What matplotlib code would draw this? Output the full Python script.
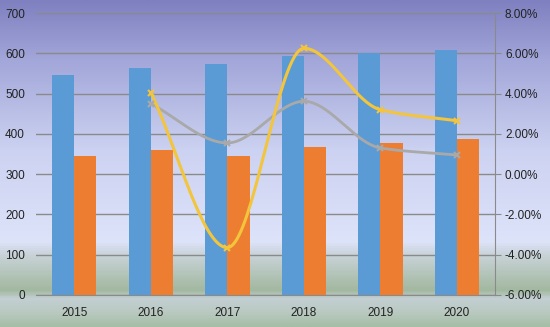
import numpy as np
import matplotlib.pyplot as plt
from matplotlib.colors import LinearSegmentedColormap

# Yearly totals (bars, left axis) and year-on-year growth (lines, right axis, %)
years = ["2015", "2016", "2017", "2018", "2019", "2020"]
series_blue = [546, 563, 573, 593, 600, 608]
series_orange = [345, 360, 345, 367, 377, 387]
growth_years = ["2016", "2017", "2018", "2019", "2020"]
growth_yellow = [4.05, -3.65, 6.25, 3.20, 2.65]
growth_gray = [3.50, 1.55, 3.62, 1.30, 0.95]

left_ticks = [0, 100, 200, 300, 400, 500, 600, 700]
right_ticks = [-6, -4, -2, 0, 2, 4, 6, 8]

BLUE = "#5b9bd5"
ORANGE = "#ed7d31"
YELLOW = "#f2c53d"
GRAY = "#a9a9a9"
GRID = "#8a8a8a"


def smooth(xs, ys, n=40):
    """Smoothed line through every point (flat tangents at peaks and dips)."""
    xs = np.asarray(xs, float)
    ys = np.asarray(ys, float)
    h = np.diff(xs)
    d = np.diff(ys) / h
    m = np.zeros_like(ys)
    for i in range(1, len(ys) - 1):
        if d[i - 1] * d[i] > 0:
            m[i] = 2 / (1 / d[i - 1] + 1 / d[i])
    m[0] = d[0]
    m[-1] = d[-1]
    out_x, out_y = [], []
    for i in range(len(xs) - 1):
        t = np.linspace(0, 1, n)
        h00 = 2 * t ** 3 - 3 * t ** 2 + 1
        h10 = t ** 3 - 2 * t ** 2 + t
        h01 = -2 * t ** 3 + 3 * t ** 2
        h11 = t ** 3 - t ** 2
        out_x.append(xs[i] + t * h[i])
        out_y.append(h00 * ys[i] + h10 * h[i] * m[i] + h01 * ys[i + 1] + h11 * h[i] * m[i + 1])
    return np.concatenate(out_x), np.concatenate(out_y)


plt.rcParams["font.family"] = ["Liberation Sans", "DejaVu Sans"]

fig = plt.figure(figsize=(5.5, 3.27), dpi=100)

# background gradient over the whole figure
bg = fig.add_axes([0, 0, 1, 1], zorder=-10)
stops = [
    (0.00, "#7f80c0"),
    (0.18, "#a2a6d9"),
    (0.46, "#ccd2f1"),
    (0.74, "#dde3f9"),
    (0.78, "#c9d3d9"),
    (0.89, "#a2b89f"),
    (0.915, "#c3cfd3"),
    (0.96, "#b9c9c0"),
    (1.00, "#a6bea6"),
]
cmap = LinearSegmentedColormap.from_list("bg", stops)
bg.imshow(np.linspace(0, 1, 400)[:, None], aspect="auto", cmap=cmap,
          extent=[0, 1, 1, 0])
bg.set_axis_off()

ax = fig.add_axes([0.0655, 0.098, 0.835, 0.862])
ax.patch.set_alpha(0)

x = np.arange(len(years))
w = 0.29
ax.bar(x - w / 2, series_blue, width=w, color=BLUE, zorder=3)
ax.bar(x + w / 2, series_orange, width=w, color=ORANGE, zorder=3)

ax.set_xlim(-0.5, len(years) - 0.5)
ax.set_ylim(0, 700)
ax.set_yticks(left_ticks)
ax.set_xticks(x)
ax.set_xticklabels(years)
ax.yaxis.grid(True, color=GRID, linewidth=1)
ax.set_axisbelow(True)
ax.tick_params(axis="both", length=0, labelsize=8.5, colors="#222222")
ax.tick_params(axis="y", pad=8)
ax.tick_params(axis="x", pad=9)
for s in ["left", "top", "right"]:
    ax.spines[s].set_visible(False)
ax.spines["bottom"].set_color(GRID)

ax2 = ax.twinx()
ax2.patch.set_alpha(0)
gx = np.array([years.index(y) for y in growth_years])
for vals, col, lw in [(growth_gray, GRAY, 2.0), (growth_yellow, YELLOW, 2.2)]:
    sx, sy = smooth(gx, vals)
    ax2.plot(sx, sy, color=col, linewidth=lw, zorder=4)
    ax2.plot(gx, vals, linestyle="none", marker="x", markersize=5,
             markeredgewidth=1.5, color=col, zorder=5)

ax2.set_ylim(-6, 8)
ax2.set_yticks(right_ticks)
ax2.set_yticklabels([f"{v:.2f}%" for v in right_ticks])
ax2.tick_params(axis="y", length=4, color=GRID, labelsize=8.5,
                labelcolor="#222222", pad=3)
for s in ["left", "top", "bottom"]:
    ax2.spines[s].set_visible(False)
ax2.spines["right"].set_color(GRID)

fig.savefig("out.png", dpi=100)
